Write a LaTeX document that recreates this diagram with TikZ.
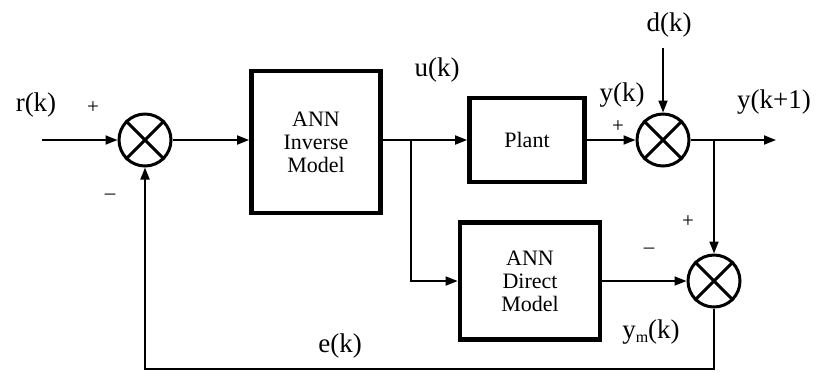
\documentclass[tikz,border=0pt]{standalone}
\usepackage{fontspec}
\setmainfont{Liberation Serif}
\usetikzlibrary{arrows.meta}
\tikzset{
    block/.style={draw, line width=2.4pt, align=center, inner sep=0pt,
        font=\fontsize{11}{11.5}\selectfont},
    summer/.style={draw, circle, line width=1.5pt, minimum size=26pt, inner sep=0pt},
    sig/.style={line width=0.9pt, -{Triangle[length=6pt,width=4.5pt]}},
    lab/.style={font=\fontsize{13.5}{14}\selectfont, inner sep=0pt},
    sgn/.style={font=\fontsize{10.5}{11}\selectfont, inner sep=0pt},
}
\begin{document}
\begin{tikzpicture}[x=0.5pt, y=-0.5pt]
    \useasboundingbox (0,0) rectangle (818,372);

    % blocks
    \node[block, minimum width=64.5pt, minimum height=71pt] (inv) at (316,142) {ANN\\Inverse\\Model};
    \node[block, minimum width=57.5pt, minimum height=42pt] (plant) at (527,140) {Plant};
    \node[block, minimum width=70pt, minimum height=58.5pt] (dir) at (530,281) {ANN\\Direct\\Model};

    % summing junctions
    \node[summer] (s1) at (145,140) {};
    \node[summer] (s2) at (663,140) {};
    \node[summer] (s3) at (714,281) {};
    \foreach \s in {s1,s2,s3}
        \draw[line width=1.5pt] (\s.north east) -- (\s.south west)
                                (\s.north west) -- (\s.south east);

    % free ends and branch points
    \coordinate (in) at (42,140);
    \coordinate (b1) at (411,140);
    \coordinate (b2) at (714,140);
    \coordinate (out) at (776,140);
    \coordinate (dtop) at (663,48);
    \coordinate (fb) at (714,369);

    % signals
    \draw[sig] (in) -- (s1);
    \draw[sig] (s1) -- (s1 -| inv.west);
    \draw[line width=0.9pt] (b1 -| inv.east) -- (b1);
    \draw[sig] (b1) -- (plant);
    \draw[sig] (b1) |- (dir);
    \draw[sig] (plant) -- (s2);
    \draw[sig] (dtop) -- (s2);
    \draw[sig] (s2) -- (out);
    \draw[sig] (b2) -- (s3);
    \draw[sig] (dir) -- (s3);
    \draw[sig] (s3) -- (fb) -| (s1);

    % labels
    \node[lab] (rk) at (36,105) {r(k)};
    \node[lab] (uk) at (437,70) {u(k)};
    \node[lab] (yk) at (622,95) {y(k)};
    \node[lab] (dk) at (669,25) {d(k)};
    \node[lab] (yk1) at (774,102) {y(k+1)};
    \node[lab] (ymk) at (651,332) {y\raisebox{-2pt}{\fontsize{8}{9}\selectfont m}(k)};
    \node[lab] (ek) at (340,346) {e(k)};

    % signs
    \node[sgn] (p1) at (93,108) {+};
    \node[sgn] (m1) at (110,197) {–};
    \node[sgn] (p2) at (618,127) {+};
    \node[sgn] (p3) at (688,222) {+};
    \node[sgn] (m3) at (649,251) {–};
\end{tikzpicture}
\end{document}
